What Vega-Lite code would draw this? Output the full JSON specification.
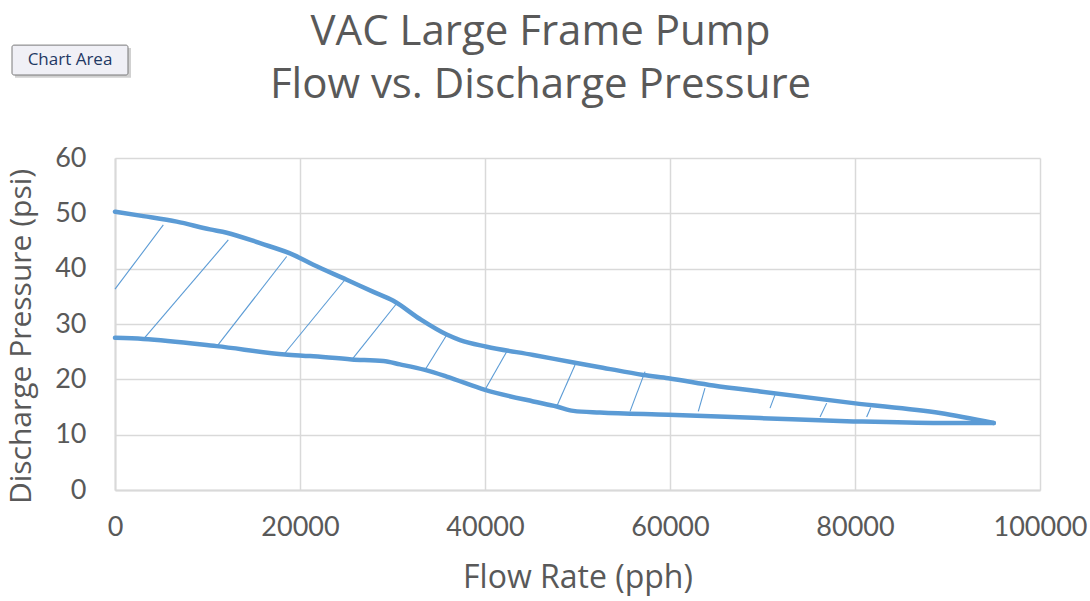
{
  "$schema": "https://vega.github.io/schema/vega-lite/v6.json",
  "width": 925,
  "height": 332,
  "autosize": {"type": "none"},
  "padding": {"left": 115, "top": 158, "right": 50, "bottom": 111},
  "background": "white",
  "title": {
    "text": ["VAC Large Frame Pump", "Flow vs. Discharge Pressure"],
    "font": "Open Sans",
    "fontSize": 42,
    "fontWeight": "normal",
    "color": "#595959",
    "anchor": "middle",
    "frame": "group",
    "dx": -37,
    "dy": 82,
    "lineHeight": 53,
    "offset": 20
  },
  "config": {
    "view": {"stroke": null},
    "axis": {
      "labelFont": "Lato",
      "titleFont": "Open Sans",
      "labelColor": "#595959",
      "titleColor": "#595959",
      "titleFontWeight": "normal",
      "labelFontSize": 27,
      "titleFontSize": 30,
      "gridColor": "#d9d9d9",
      "gridWidth": 1.5,
      "domainColor": "#d9d9d9",
      "domainWidth": 2,
      "ticks": false,
      "labelFlush": false
    }
  },
  "datasets": {
    "curves": [
      {"series": "upper", "flow": 0, "pressure": 50.3},
      {"series": "upper", "flow": 3060, "pressure": 49.5},
      {"series": "upper", "flow": 6670, "pressure": 48.5},
      {"series": "upper", "flow": 10270, "pressure": 47.1},
      {"series": "upper", "flow": 12075, "pressure": 46.5},
      {"series": "upper", "flow": 15680, "pressure": 44.6},
      {"series": "upper", "flow": 19280, "pressure": 42.5},
      {"series": "upper", "flow": 21440, "pressure": 40.7},
      {"series": "upper", "flow": 25050, "pressure": 38.0},
      {"series": "upper", "flow": 27930, "pressure": 35.8},
      {"series": "upper", "flow": 30090, "pressure": 34.2},
      {"series": "upper", "flow": 32970, "pressure": 30.9},
      {"series": "upper", "flow": 35860, "pressure": 28.1},
      {"series": "upper", "flow": 37300, "pressure": 27.1},
      {"series": "upper", "flow": 40180, "pressure": 25.9},
      {"series": "upper", "flow": 45220, "pressure": 24.4},
      {"series": "upper", "flow": 49730, "pressure": 23.0},
      {"series": "upper", "flow": 52430, "pressure": 22.2},
      {"series": "upper", "flow": 57120, "pressure": 20.8},
      {"series": "upper", "flow": 59820, "pressure": 20.2},
      {"series": "upper", "flow": 64680, "pressure": 18.9},
      {"series": "upper", "flow": 69730, "pressure": 17.8},
      {"series": "upper", "flow": 79820, "pressure": 15.7},
      {"series": "upper", "flow": 89190, "pressure": 13.9},
      {"series": "upper", "flow": 95000, "pressure": 12.1},
      {"series": "lower", "flow": 0, "pressure": 27.5},
      {"series": "lower", "flow": 3060, "pressure": 27.3},
      {"series": "lower", "flow": 10990, "pressure": 26.0},
      {"series": "lower", "flow": 18380, "pressure": 24.5},
      {"series": "lower", "flow": 21080, "pressure": 24.2},
      {"series": "lower", "flow": 25590, "pressure": 23.6},
      {"series": "lower", "flow": 29000, "pressure": 23.3},
      {"series": "lower", "flow": 30810, "pressure": 22.7},
      {"series": "lower", "flow": 33510, "pressure": 21.7},
      {"series": "lower", "flow": 35860, "pressure": 20.5},
      {"series": "lower", "flow": 40000, "pressure": 18.1},
      {"series": "lower", "flow": 45220, "pressure": 16.0},
      {"series": "lower", "flow": 47750, "pressure": 15.1},
      {"series": "lower", "flow": 49550, "pressure": 14.3},
      {"series": "lower", "flow": 52430, "pressure": 14.0},
      {"series": "lower", "flow": 59820, "pressure": 13.6},
      {"series": "lower", "flow": 69730, "pressure": 13.0},
      {"series": "lower", "flow": 79820, "pressure": 12.4},
      {"series": "lower", "flow": 89190, "pressure": 12.1},
      {"series": "lower", "flow": 95000, "pressure": 12.1}
    ],
    "hatch": [
      {"flow": 0, "pressure": 36.3, "flow2": 5220, "pressure2": 47.9},
      {"flow": 3240, "pressure": 27.6, "flow2": 12250, "pressure2": 45.2},
      {"flow": 10990, "pressure": 25.9, "flow2": 18560, "pressure2": 42.2},
      {"flow": 18200, "pressure": 24.4, "flow2": 24860, "pressure2": 38.0},
      {"flow": 25590, "pressure": 23.5, "flow2": 30450, "pressure2": 33.7},
      {"flow": 33510, "pressure": 21.7, "flow2": 35860, "pressure2": 28.0},
      {"flow": 40000, "pressure": 18.1, "flow2": 42340, "pressure2": 25.0},
      {"flow": 47750, "pressure": 15.1, "flow2": 49730, "pressure2": 22.6},
      {"flow": 55680, "pressure": 14.2, "flow2": 57300, "pressure2": 21.4},
      {"flow": 63060, "pressure": 14.2, "flow2": 63780, "pressure2": 18.4},
      {"flow": 70810, "pressure": 14.8, "flow2": 71350, "pressure2": 17.2},
      {"flow": 76220, "pressure": 13.2, "flow2": 76940, "pressure2": 15.7},
      {"flow": 81260, "pressure": 13.2, "flow2": 81700, "pressure2": 14.9}
    ],
    "label": [
      {"text": "Chart Area"}
    ]
  },
  "layer": [
    {
      "data": {"name": "hatch"},
      "mark": {"type": "rule", "color": "#5B9BD5", "strokeWidth": 1.1},
      "encoding": {
        "x": {
          "field": "flow",
          "type": "quantitative",
          "scale": {"domain": [0, 100000], "nice": false},
          "axis": {
            "title": "Flow Rate (pph)",
            "values": [0, 20000, 40000, 60000, 80000, 100000],
            "format": "d",
            "labelPadding": 24,
            "titlePadding": 22,
            "titleFontSize": 32
          }
        },
        "y": {
          "field": "pressure",
          "type": "quantitative",
          "scale": {"domain": [0, 60], "nice": false},
          "axis": {
            "title": "Discharge Pressure (psi)",
            "values": [0, 10, 20, 30, 40, 50, 60],
            "labelPadding": 29,
            "titlePadding": 18,
            "titleY": 178
          }
        },
        "x2": {"field": "flow2"},
        "y2": {"field": "pressure2"}
      }
    },
    {
      "data": {"name": "curves"},
      "mark": {"type": "line", "color": "#5B9BD5", "strokeWidth": 4.5, "interpolate": "monotone", "strokeCap": "round"},
      "encoding": {
        "x": {"field": "flow", "type": "quantitative", "scale": {"domain": [0, 100000], "nice": false}},
        "y": {"field": "pressure", "type": "quantitative", "scale": {"domain": [0, 60], "nice": false}},
        "detail": {"field": "series"}
      }
    },
    {
      "data": {"name": "label"},
      "mark": {"type": "rect", "fill": "#9a9a9a", "opacity": 0.45},
      "encoding": {
        "x": {"datum": -10811, "type": "quantitative", "scale": {"domain": [0, 100000], "nice": false}},
        "x2": {"datum": 1730},
        "y": {"datum": 79.9, "type": "quantitative", "scale": {"domain": [0, 60], "nice": false}},
        "y2": {"datum": 74.5}
      }
    },
    {
      "data": {"name": "label"},
      "mark": {"type": "rect", "fill": "#f0f0f6", "stroke": "#7a7a7a", "strokeWidth": 1, "cornerRadius": 2},
      "encoding": {
        "x": {"datum": -11135, "type": "quantitative", "scale": {"domain": [0, 100000], "nice": false}},
        "x2": {"datum": 1405},
        "y": {"datum": 80.4, "type": "quantitative", "scale": {"domain": [0, 60], "nice": false}},
        "y2": {"datum": 75.0}
      }
    },
    {
      "data": {"name": "label"},
      "mark": {"type": "text", "font": "Open Sans", "fontSize": 17, "color": "#1f3864", "align": "center", "baseline": "middle"},
      "encoding": {
        "x": {"datum": -4865, "type": "quantitative", "scale": {"domain": [0, 100000], "nice": false}},
        "y": {"datum": 77.7, "type": "quantitative", "scale": {"domain": [0, 60], "nice": false}},
        "text": {"field": "text"}
      }
    }
  ]
}
